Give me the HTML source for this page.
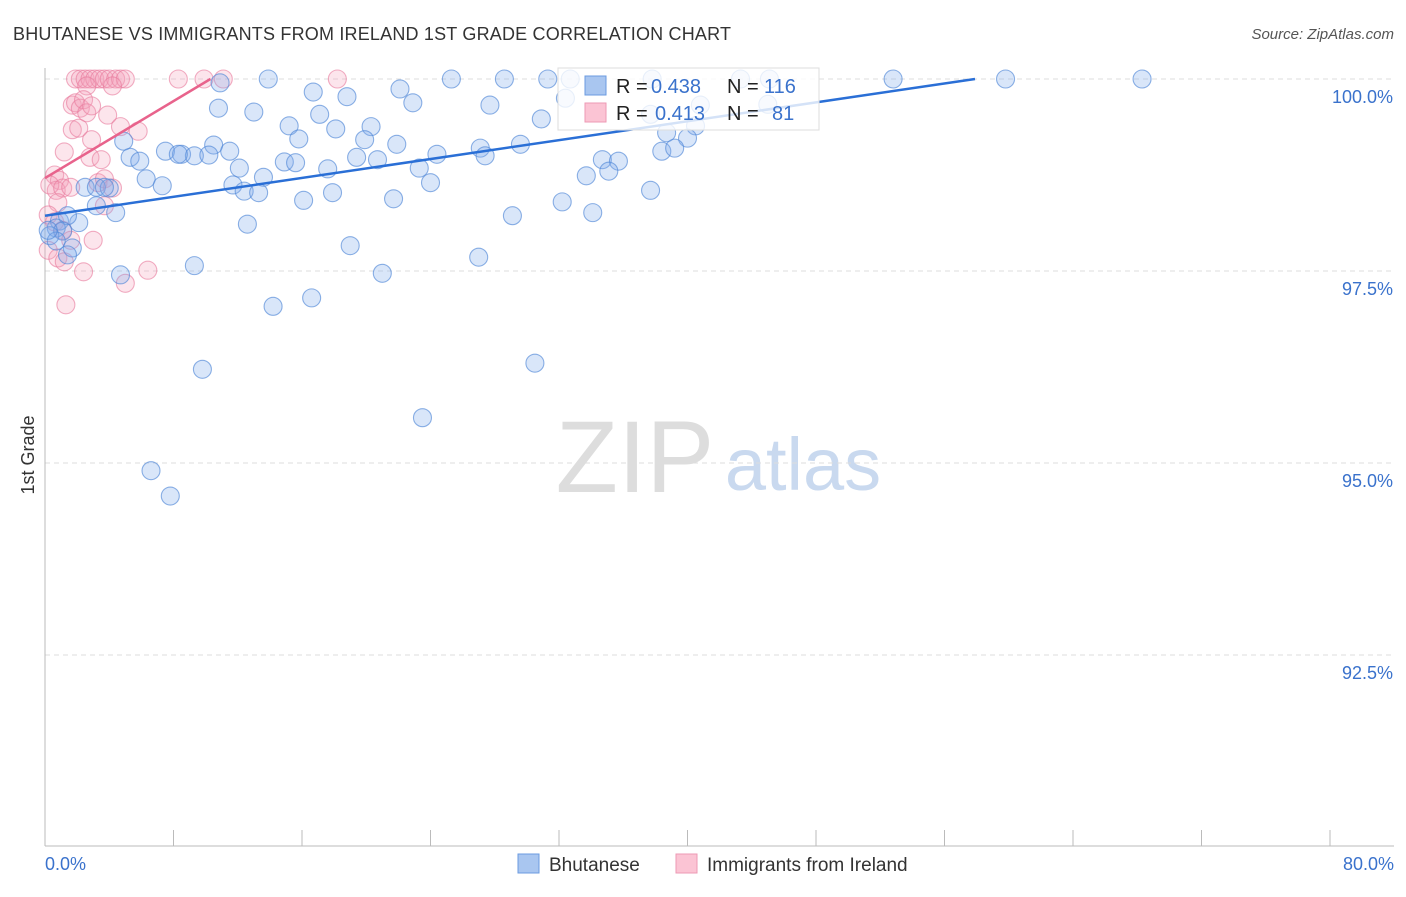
<!DOCTYPE html>
<html><head><meta charset="utf-8"><style>
body{margin:0;background:#fff;font-family:"Liberation Sans",sans-serif}
svg text{font-family:"Liberation Sans",sans-serif}
</style></head><body>
<svg id="chart" width="1406" height="892" xmlns="http://www.w3.org/2000/svg">
<text x="13" y="40" font-size="18" fill="#333" textLength="718">BHUTANESE VS IMMIGRANTS FROM IRELAND 1ST GRADE CORRELATION CHART</text>
<text x="1394" y="39" font-size="15" fill="#555" font-style="italic" text-anchor="end">Source: ZipAtlas.com</text>
<text x="34" y="455" font-size="18" fill="#333" text-anchor="middle" transform="rotate(-90 34 455)">1st Grade</text>
<g>
<text x="635" y="492" font-size="102" fill="#ddd" font-family="Liberation Serif" text-anchor="middle">ZIP</text>
<text x="803" y="490" font-size="74" fill="#c9d9ef" text-anchor="middle">atlas</text>
</g>
<g id="grid"></g>
<g id="axes"></g>
<g id="pts"></g>
<g id="trends"></g>
<g>
<rect x="558" y="68" width="261" height="62" fill="#fff" fill-opacity="0.8" stroke="#ddd"/>
<rect x="585" y="76" width="21" height="19" fill="#a9c6f0" stroke="#6b9be0"/>
<text x="616" y="93" font-size="20" fill="#222">R = </text><text x="651" y="93" font-size="20" fill="#3a72cc">0.438</text>
<text x="727" y="93" font-size="20" fill="#222">N = </text><text x="764" y="93" font-size="20" fill="#3a72cc">116</text>
<rect x="585" y="103" width="21" height="19" fill="#fbc4d4" stroke="#ee9ab4"/>
<text x="616" y="120" font-size="20" fill="#222">R = </text><text x="655" y="120" font-size="20" fill="#3a72cc">0.413</text>
<text x="727" y="120" font-size="20" fill="#222">N = </text><text x="772" y="120" font-size="20" fill="#3a72cc">81</text>
</g>
<g>
<rect x="518" y="854" width="21" height="19" fill="#a9c6f0" stroke="#6b9be0"/>
<text x="549" y="871" font-size="19" fill="#333">Bhutanese</text>
<rect x="676" y="854" width="21" height="19" fill="#fbc4d4" stroke="#ee9ab4"/>
<text x="707" y="871" font-size="19" fill="#333">Immigrants from Ireland</text>
</g>
</svg>
<script>
const yTicks=[100,97.5,95,92.5];
const yTickLabels=["100.0%","97.5%","95.0%","92.5%"];
const xTickCount=10;
const xLabels=["0.0%","80.0%"];
const blueX=[13.9,25.3,28.6,31.3,37.8,52.8,59.8,68.3,10.9,22.1,16.7,18.8,22.9,27.7,10.8,13.0,17.1,30.9,15.2,20.3,18.1,38.7,40.5,40.0,4.9,15.8,10.5,21.9,19.9,29.6,27.1,5.3,5.9,7.5,8.5,9.3,10.2,8.3,11.5,24.4,27.4,38.4,39.2,19.4,20.7,14.9,15.6,17.6,12.1,34.7,35.7,23.3,35.1,6.3,13.6,33.7,24.0,11.7,7.3,2.5,3.2,4.0,3.7,12.4,13.3,17.9,37.7,16.1,21.7,32.2,3.2,4.4,2.1,12.6,29.1,34.1,0.9,1.4,19.0,0.7,1.1,0.3,0.7,1.7,1.4,9.3,4.7,21.0,27.0,14.2,16.6,9.8,30.5,23.5,6.6,7.8,0.2,32.7,43.3,45.1,45.0,32.4,37.7,40.8];
const blueY=[100,100,100,100,100,100,100,100,99.95,99.87,99.83,99.77,99.69,99.66,99.62,99.57,99.54,99.48,99.39,99.38,99.35,99.30,99.39,99.23,99.19,99.22,99.14,99.15,99.21,99.15,99.10,98.98,98.93,99.06,99.02,99.00,99.01,99.02,99.06,99.02,99.00,99.06,99.10,98.98,98.95,98.92,98.91,98.83,98.84,98.95,98.93,98.84,98.80,98.70,98.72,98.74,98.65,98.62,98.61,98.59,98.59,98.58,98.59,98.54,98.52,98.52,98.55,98.42,98.44,98.40,98.35,98.26,98.13,98.11,98.22,98.26,98.15,98.22,97.83,98.06,98.02,97.96,97.89,97.80,97.71,97.57,97.45,97.47,97.68,97.04,97.15,96.22,96.30,95.59,94.90,94.57,98.03,100,100,100,99.67,99.75,99.54,99.66];
const pinkX=[1.9,2.2,2.5,2.8,3.1,3.4,3.7,4.0,4.4,4.7,5.0,8.3,9.9,11.1,18.2,2.6,4.2,1.7,1.9,2.2,2.4,2.6,2.9,1.7,2.1,2.9,3.9,4.7,5.8,1.2,2.8,3.5,0.6,0.9,0.7,0.3,1.1,1.6,3.3,3.7,4.2,0.8,0.2,0.6,1.1,1.6,0.2,0.8,1.2,3.0,2.4,6.4,5.0,1.3,3.7];
const pinkY=[100,100,100,100,100,100,100,100,100,100,100,100,100,100,100,99.91,99.91,99.66,99.69,99.62,99.73,99.56,99.65,99.34,99.36,99.21,99.53,99.38,99.32,99.05,98.98,98.95,98.75,98.68,98.55,98.62,98.58,98.59,98.65,98.70,98.58,98.39,98.23,98.14,98.03,97.90,97.77,97.67,97.62,97.90,97.49,97.51,97.34,97.06,98.35];
const blueTrend=[[0,98.22],[57.9,100]];
const pinkTrend=[[0,98.71],[10.3,100]];

const X0=45,X1=1330,Y100=79,PXPER=76.8;
function sx(v){return X0+(v/80)*(X1-X0);}
function sy(v){return Y100+(100-v)*PXPER;}
const NS="http://www.w3.org/2000/svg";
function mk(tag,attrs,parent){const e=document.createElementNS(NS,tag);for(const k in attrs)e.setAttribute(k,attrs[k]);parent.appendChild(e);return e;}
const grid=document.getElementById('grid'),axes=document.getElementById('axes'),pts=document.getElementById('pts'),tr=document.getElementById('trends');
yTicks.forEach((t,i)=>{
  const l=mk('line',{x1:X0,x2:1394,y1:sy(t),y2:sy(t),stroke:'#ddd','stroke-dasharray':'5,4'},grid);
  
  
  const tx=mk('text',{x:1393,y:sy(t)+24,'font-size':18,fill:'#3a72cc','text-anchor':'end'},grid);
  tx.textContent=yTickLabels[i];
  
  
});
const ya=mk('line',{x1:X0,x2:X0,y1:68,y2:846,stroke:'#bbb'},axes);


const xa=mk('line',{x1:X0,x2:1394,y1:846,y2:846,stroke:'#bbb'},axes);


for(let i=0;i<=xTickCount;i++){
  const v=i*80/xTickCount;
  const tk=mk('line',{x1:sx(v),x2:sx(v),y1:830,y2:846,stroke:'#bbb'},axes);
  
  
}
[[0,'start',45],[80,'end',1394]].forEach((d,i)=>{
  const tx=mk('text',{x:d[2],y:870,'font-size':18,fill:'#3a72cc','text-anchor':d[1]},axes);
  tx.textContent=xLabels[i];
  
  
});
function drawPts(xs,ys,fill,stroke,name){
  xs.forEach((x,i)=>{
    const c=mk('circle',{cx:sx(x),cy:sy(ys[i]),r:9,fill:fill,stroke:stroke,'stroke-width':1.1},pts);
    
    
  });
}
drawPts(pinkX,pinkY,'rgba(245,160,188,0.28)','rgba(232,120,155,0.6)','ireland-point');
drawPts(blueX,blueY,'rgba(130,172,235,0.3)','rgba(80,135,215,0.65)','bhutanese-point');
const bl=mk('line',{x1:sx(blueTrend[0][0]),y1:sy(blueTrend[0][1]),x2:sx(blueTrend[1][0]),y2:sy(blueTrend[1][1]),stroke:'#2a6fd6','stroke-width':2.5},tr);


const pl=mk('line',{x1:sx(pinkTrend[0][0]),y1:sy(pinkTrend[0][1]),x2:sx(pinkTrend[1][0]),y2:sy(pinkTrend[1][1]),stroke:'#e8638c','stroke-width':2.5},tr);


</script>
</body></html>
